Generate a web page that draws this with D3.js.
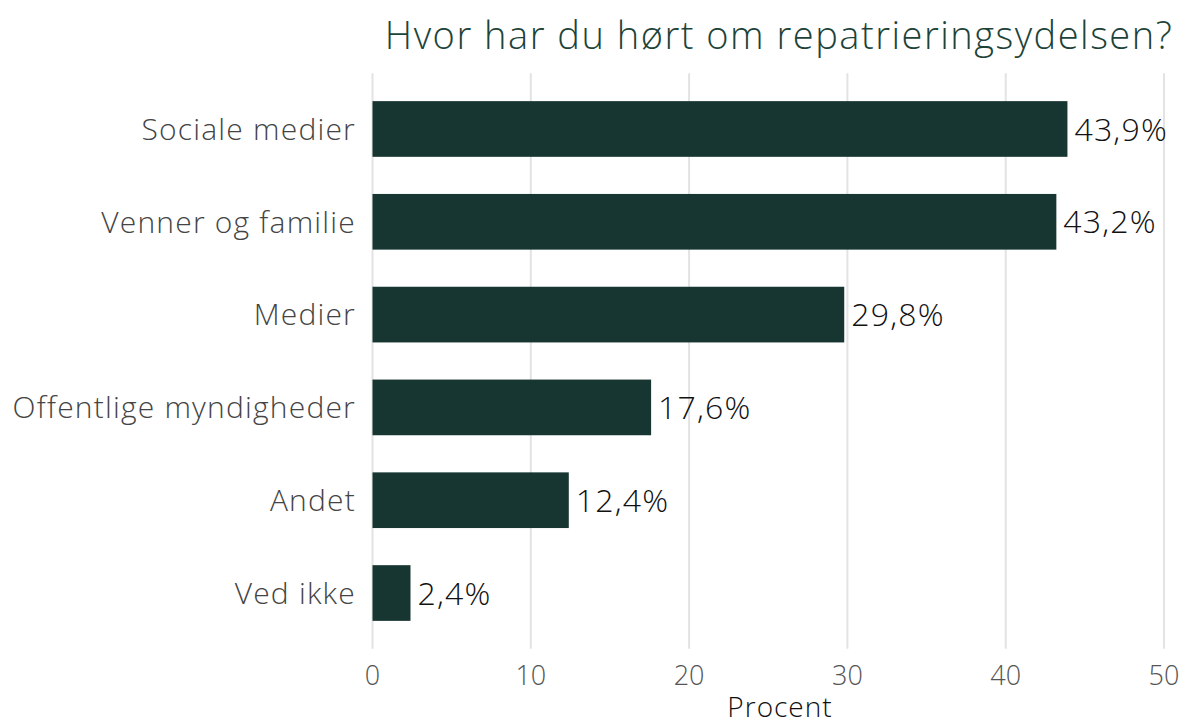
<!DOCTYPE html>
<html>
  <head>
    <meta charset="utf-8">
    <style>
    body { margin: 0; background: #fff; }
    svg text { font-family: "Open Sans", Lato, sans-serif; font-weight: 300; }
    </style>
    <script src="https://cdn.jsdelivr.net/npm/d3@7"></script>
  </head>
  <body>
    <script>
    var categories = ["Sociale medier", "Venner og familie", "Medier", "Offentlige myndigheder", "Andet", "Ved ikke"];
    var values = [43.9, 43.2, 29.8, 17.6, 12.4, 2.4];
    var ticks = [0, 10, 20, 30, 40, 50];
    var title = "Hvor har du hørt om repatrieringsydelsen?";
    var xTitle = "Procent";

    var width = 1185, height = 726;
    var svg = d3.select("body").append("svg")
        .attr("width", width)
        .attr("height", height);

    var x = d3.scaleLinear().domain([0, 50]).range([372.5, 1164]);
    var y = d3.scaleBand().domain(categories).range([73.3, 648.7])
        .paddingInner(0.4).paddingOuter(0.3);

    // gridlines
    svg.selectAll(".grid")
      .data(ticks)
      .enter().append("line")
        .attr("x1", d => x(d)).attr("x2", d => x(d))
        .attr("y1", 73.3).attr("y2", 648.7)
        .style("stroke", "#e3e3e3")
        .style("stroke-width", 2);

    // bars
    var data = categories.map((c, i) => ({cat: c, val: values[i]}));
    svg.selectAll(".bar")
      .data(data)
      .enter().append("rect")
        .attr("x", x(0))
        .attr("y", d => y(d.cat))
        .attr("width", d => x(d.val) - x(0))
        .attr("height", y.bandwidth())
        .style("fill", "#173631");

    // value labels
    svg.selectAll(".val")
      .data(data)
      .enter().append("text")
        .attr("x", d => x(d.val) + 7)
        .attr("y", d => y(d.cat) + y.bandwidth() / 2)
        .attr("dy", "0.36em")
        .style("font-size", "32px")
        .style("letter-spacing", "1.2px")
        .style("fill", "#111")
        .text(d => d.val.toFixed(1).replace(".", ",") + "%");

    // category labels
    svg.selectAll(".cat")
      .data(categories)
      .enter().append("text")
        .attr("x", 356)
        .attr("y", d => y(d) + y.bandwidth() / 2)
        .attr("dy", "0.36em")
        .attr("text-anchor", "end")
        .style("font-size", "30px")
        .style("letter-spacing", "1.2px")
        .style("fill", "#444")
        .text(d => d);

    // x tick labels
    svg.selectAll(".tick")
      .data(ticks)
      .enter().append("text")
        .attr("x", d => x(d))
        .attr("y", 675)
        .attr("dy", "0.36em")
        .attr("text-anchor", "middle")
        .style("font-size", "27px")
        .style("fill", "#555")
        .text(d => d);

    svg.append("text")
        .attr("x", 780)
        .attr("y", 717)
        .attr("text-anchor", "middle")
        .style("font-size", "28px")
        .style("letter-spacing", "1px")
        .style("fill", "#111")
        .text(xTitle);

    svg.append("text")
        .attr("x", 779)
        .attr("y", 49)
        .attr("text-anchor", "middle")
        .style("font-size", "38px")
        .style("letter-spacing", "1.5px")
        .style("fill", "#1d4339")
        .text(title);
    </script>
  </body>
</html>
